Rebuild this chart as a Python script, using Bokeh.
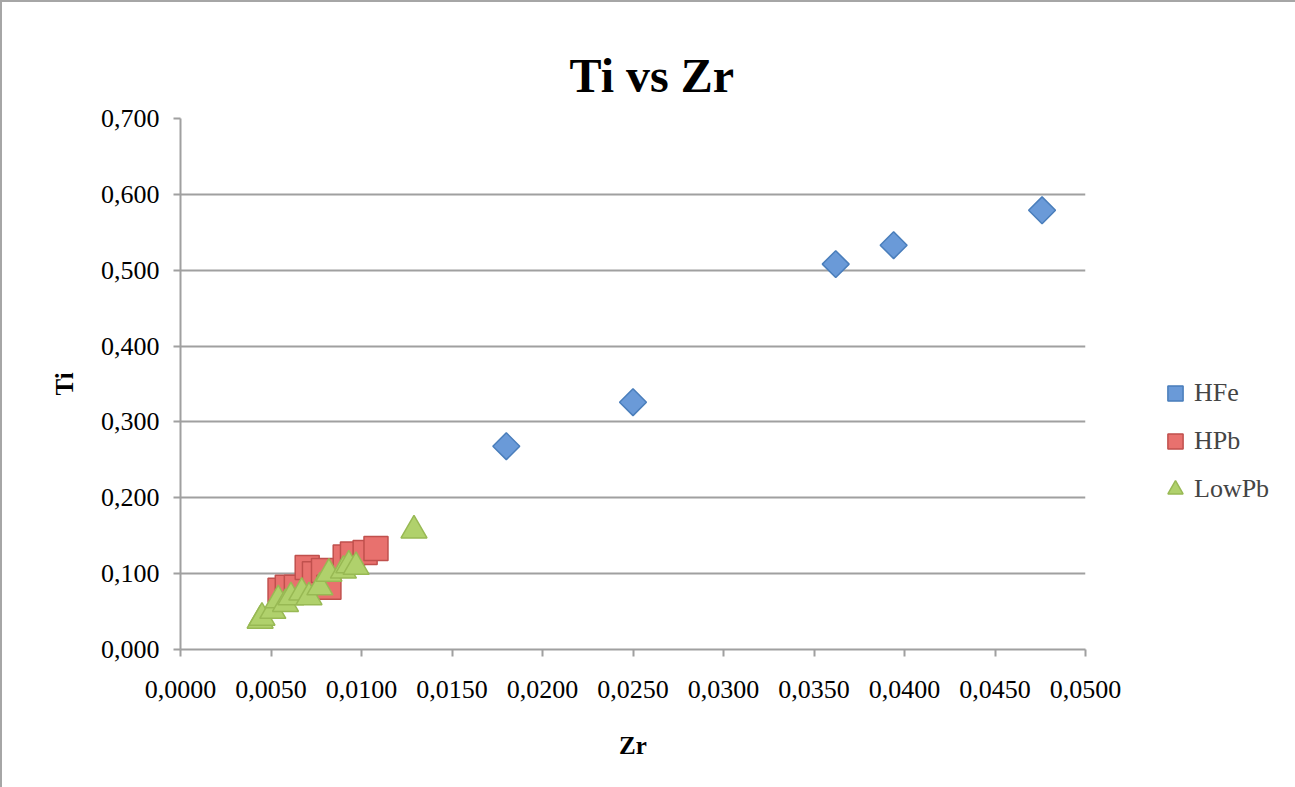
import math
from bokeh.plotting import figure
from bokeh.models import FixedTicker, CustomJSTickFormatter, Legend, LegendItem, Range1d
from bokeh.embed import file_html
from bokeh.resources import INLINE

# Data
hfe_zr = [0.0180, 0.0250, 0.0362, 0.0394, 0.0476]
hfe_ti = [0.268, 0.326, 0.508, 0.533, 0.579]

hpb_zr = [0.0055, 0.0059, 0.0064, 0.0070, 0.0074, 0.0079, 0.0082, 0.0091, 0.0095, 0.0102, 0.0108]
hpb_ti = [0.078, 0.082, 0.082, 0.108, 0.100, 0.104, 0.082, 0.122, 0.126, 0.128, 0.133]

low_zr = [0.0044, 0.0045, 0.0051, 0.0054, 0.0058, 0.0061, 0.0067, 0.0071, 0.0077, 0.0082, 0.0090, 0.0093, 0.0097, 0.0129]
low_ti = [0.038, 0.042, 0.051, 0.065, 0.060, 0.069, 0.075, 0.069, 0.082, 0.100, 0.104, 0.111, 0.109, 0.157]

x_ticks = [0.0, 0.005, 0.010, 0.015, 0.020, 0.025, 0.030, 0.035, 0.040, 0.045, 0.050]
y_ticks = [0.0, 0.1, 0.2, 0.3, 0.4, 0.5, 0.6, 0.7]

SERIF = "Liberation Serif"

p = figure(frame_width=905, frame_height=531, output_backend="svg", toolbar_location=None,
           x_range=Range1d(0, 0.05), y_range=Range1d(0, 0.7),
           min_border_left=178, min_border_right=150, min_border_top=116, min_border_bottom=140,
           title="Ti vs Zr")
p.styles = {"border": "2px solid #a6a6a6"}
p.outline_line_color = None
p.title.text_font = SERIF
p.title.text_font_size = "48px"
p.title.text_font_style = "bold"
p.title.text_color = "#000000"
p.title.align = "left"
p.title.offset = 389
p.title.standoff = 34

grey = "#a0a0a0"
for ax in (p.xaxis[0], p.yaxis[0]):
    ax.axis_line_color = grey
    ax.axis_line_width = 2
    ax.major_tick_line_color = grey
    ax.major_tick_line_width = 2
    ax.major_tick_out = 7
    ax.major_tick_in = 0
    ax.minor_tick_line_color = None
    ax.major_label_text_font = SERIF
    ax.major_label_text_font_size = "26px"
    ax.major_label_text_color = "#000000"
    ax.axis_label_text_font = SERIF
    ax.axis_label_text_font_size = "25px"
    ax.axis_label_text_font_style = "bold"
    ax.axis_label_text_color = "#000000"

p.xaxis.ticker = FixedTicker(ticks=x_ticks)
p.yaxis.ticker = FixedTicker(ticks=y_ticks)
p.xaxis.formatter = CustomJSTickFormatter(code="return tick.toFixed(4).replace('.', ',');")
p.yaxis.formatter = CustomJSTickFormatter(code="return tick.toFixed(3).replace('.', ',');")
p.xaxis.axis_label = "Zr"
p.yaxis.axis_label = "Ti"
p.xaxis.major_label_standoff = 24
p.xaxis.axis_label_standoff = 31
p.yaxis.major_label_standoff = 14
p.yaxis.axis_label_standoff = 20

p.xgrid.grid_line_color = None
p.ygrid.grid_line_color = grey
p.ygrid.grid_line_width = 2

r1 = p.scatter(hfe_zr, hfe_ti, marker="square", angle=math.pi / 4, size=19,
               fill_color="#6a9ad8", line_color="#4a7ebb", line_width=1.5)
r2 = p.scatter(hpb_zr, hpb_ti, marker="square", size=24,
               fill_color="#e8716e", line_color="#c0504d", line_width=1.5)
r3 = p.scatter(low_zr, low_ti, marker="triangle", size=26,
               fill_color="#b0d16c", line_color="#98b954", line_width=1.5)

legend = Legend(items=[LegendItem(label="HFe", renderers=[r1]),
                       LegendItem(label="HPb", renderers=[r2]),
                       LegendItem(label="LowPb", renderers=[r3])],
                location=(71, 141))
legend.border_line_color = None
legend.background_fill_alpha = 0
legend.label_text_font = SERIF
legend.label_text_font_size = "26px"
legend.glyph_width = 38
legend.glyph_height = 38
legend.label_standoff = 0
legend.spacing = 10
legend.padding = 10
legend.margin = 0
p.add_layout(legend, "right")

open("out.html", "w").write(file_html(p, INLINE))
